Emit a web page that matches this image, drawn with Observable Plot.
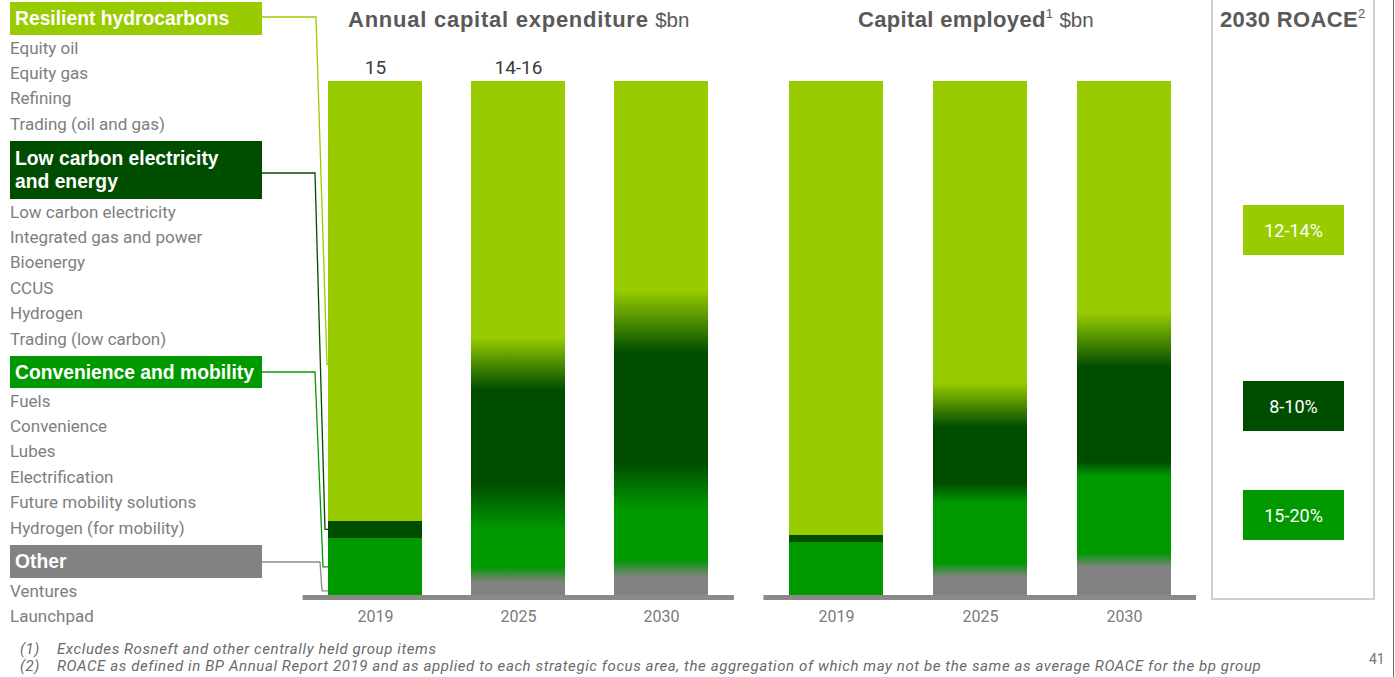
<!DOCTYPE html>
<html><head><meta charset="utf-8">
<script src="https://cdn.jsdelivr.net/npm/d3@7"></script>
<script src="https://cdn.jsdelivr.net/npm/@observablehq/plot@0.6"></script>
<style>
body{margin:0;background:#fff;}
#page{position:relative;width:1395px;height:677px;overflow:hidden;font-family:Roboto,"Liberation Sans",sans-serif;background:#fff;}
.hdr{position:absolute;left:10px;width:252px;color:#fff;font-weight:bold;font-size:19.3px;line-height:23px;padding:0 5px;box-sizing:border-box;display:flex;align-items:center;font-family:"Liberation Sans",Arial,sans-serif;white-space:nowrap;}
.item{position:absolute;left:10px;font-size:17px;color:#7e7e7e;line-height:20px;white-space:nowrap;}
.title{position:absolute;top:6px;line-height:28px;color:#595959;white-space:nowrap;font-family:"Liberation Sans",Arial,sans-serif;}
.title b{font-size:22px;letter-spacing:0.35px;}
.title span{font-size:20.5px;font-weight:normal;margin-left:2px;}
.title sup{font-size:13px;font-weight:normal;vertical-align:9px;line-height:0;}
.chart{position:absolute;top:40px;}
.roace{position:absolute;left:1211px;top:-2px;width:164px;height:602px;border:2px solid #cfcfcf;box-sizing:border-box;}
.rbox{position:absolute;left:1243px;width:101px;height:50px;color:#fff;font-size:18px;display:flex;align-items:center;justify-content:center;}
.foot{position:absolute;left:20px;font-size:15px;letter-spacing:0.6px;font-style:italic;color:#6a6a6a;white-space:nowrap;line-height:17px;}
.foot span{position:absolute;left:37px;}
</style></head>
<body><div id="page"></div>
<script>
// ---------- data ----------
const years = ["2019", "2025", "2030"];
const segmentNames = ["Other", "Convenience and mobility", "Low carbon electricity and energy", "Resilient hydrocarbons"];
const segmentColors = ["#828282", "#009a00", "#004d00", "#99cc00"];

// Annual capital expenditure: top edge of each segment as [low, high] % of bar
const capexOtherTop     = [[0, 0],       [2.7, 5.6],   [3.7, 7.0]];
const capexMobilityTop  = [[11.3, 11.3], [12.8, 21.9], [16.7, 25.8]];
const capexLowCarbonTop = [[14.6, 14.6], [40.0, 50.3], [47.2, 59.4]];
const capexTotals = ["15", "14-16", ""];

// Capital employed: top edge of each segment as [low, high] % of bar
const ceOtherTop     = [[0, 0],       [3.7, 6.4],   [5.6, 8.3]];
const ceMobilityTop  = [[10.5, 10.5], [18.1, 21.9], [23.3, 26.0]];
const ceLowCarbonTop = [[11.8, 11.8], [32.8, 41.4], [44.5, 55.0]];

// ROACE 2030
const roaceLabels = ["12-14%", "8-10%", "15-20%"];
const roaceSegment = [3, 2, 1];

// legend texts
const hydrocarbonItems = ["Equity oil", "Equity gas", "Refining", "Trading (oil and gas)"];
const lowCarbonItems = ["Low carbon electricity", "Integrated gas and power", "Bioenergy", "CCUS", "Hydrogen", "Trading (low carbon)"];
const mobilityItems = ["Fuels", "Convenience", "Lubes", "Electrification", "Future mobility solutions", "Hydrogen (for mobility)"];
const otherItems = ["Ventures", "Launchpad"];
const footnotes = [["(1)", "Excludes Rosneft and other centrally held group items"],
  ["(2)", "ROACE as defined in BP Annual Report 2019 and as applied to each strategic focus area, the aggregation of which may not be the same as average ROACE for the bp group"]];

// ---------- page ----------
const page = document.getElementById("page");
function add(html){ page.insertAdjacentHTML("beforeend", html); }

// gradient defs
add(`<svg width="0" height="0" style="position:absolute"><defs>${[0,1,2].map(k=>`
<linearGradient id="g${k}" x1="0" y1="0" x2="0" y2="1"><stop offset="0" stop-color="${segmentColors[k+1]}"/><stop offset="1" stop-color="${segmentColors[k]}"/></linearGradient>`).join("")}</defs></svg>`);

// legend
const legendGroups = [
  {name: "Resilient hydrocarbons", items: hydrocarbonItems, seg: 3},
  {name: "Low carbon electricity<br>and energy", items: lowCarbonItems, seg: 2},
  {name: "Convenience and mobility", items: mobilityItems, seg: 1},
  {name: "Other", items: otherItems, seg: 0}
];
const hdrTop = [2, 141, 356, 545], hdrH = [33, 58, 32, 33];
legendGroups.forEach((g, gi) => {
  add(`<div class="hdr" style="top:${hdrTop[gi]}px;height:${hdrH[gi]}px;background:${segmentColors[g.seg]}"><div>${g.name}</div></div>`);
  const bottom = hdrTop[gi] + hdrH[gi];
  g.items.forEach((t, i) => add(`<div class="item" style="top:${bottom + 12.5 + i*25.4 - 10}px">${t}</div>`));
});

// titles
add(`<div class="title" style="left:348px"><b style="letter-spacing:0.75px">Annual capital expenditure</b> <span>$bn</span></div>`);
add(`<div class="title" style="left:858px"><b>Capital employed</b><sup>1</sup> <span>$bn</span></div>`);
add(`<div class="title" style="left:1220px"><b>2030 ROACE</b><sup>2</sup></div>`);

function buildRows(otherTop, mobTop, lowTop){
  const rows = [];
  years.forEach((yr, i) => {
    const b = [[0,0], otherTop[i], mobTop[i], lowTop[i], [100,100]];
    for (let k = 0; k < 4; k++) {
      const lo = b[k][1], hi = b[k+1][0];
      if (hi > lo) rows.push({year: yr, y1: lo, y2: hi, fill: segmentColors[k]});
      if (k < 3) { const g = b[k+1]; if (g[1] > g[0]) rows.push({year: yr, y1: g[0], y2: g[1], fill: `url(#g${k})`}); }
    }
  });
  return rows;
}

function makeChart(rows, labels, mL, mR){
  const fills = [...new Set(rows.map(r => r.fill))];
  const marks = fills.map(f => Plot.barY(rows.filter(r => r.fill === f), {x: "year", y1: "y1", y2: "y2", fill: f, shapeRendering: "crispEdges"}));
  marks.push(Plot.ruleY([0], {stroke: "#8a8a8a", strokeWidth: 5, dy: 1}));
  if (labels) marks.push(Plot.text(years, {x: d => d, y: 100, text: (d, i) => labels[i], dy: -14, fontSize: 19, fill: "#3a3a3a"}));
  return Plot.plot({
    width: 440, height: 600, marginLeft: mL, marginRight: mR, marginTop: 41, marginBottom: 44,
    x: {domain: years, paddingInner: 0.346, paddingOuter: 0.173, label: null, tickSize: 0, tickPadding: 14},
    y: {domain: [0, 100], axis: null},
    style: {fontFamily: "Roboto, sans-serif", fontSize: "16px", color: "#7a7a7a", background: "transparent", overflow: "visible"},
    marks
  });
}

const capexChart = makeChart(buildRows(capexOtherTop, capexMobilityTop, capexLowCarbonTop), capexTotals, 2.6, 6.1);
capexChart.classList.add("chart"); capexChart.style.left = "300px";
page.appendChild(capexChart);
const ceChart = makeChart(buildRows(ceOtherTop, ceMobilityTop, ceLowCarbonTop), null, 3.4, 3.9);
ceChart.classList.add("chart"); ceChart.style.left = "760px";
page.appendChild(ceChart);

// connectors from legend headers to 2019 capex bar
const xs = capexChart.scale("x"), ys = capexChart.scale("y");
const barLeft = 300 + xs.apply("2019");
const yAt = v => 40 + ys.apply(v);
const endVals = [1, (0 + capexMobilityTop[0][0]) / 2, (capexMobilityTop[0][1] + capexLowCarbonTop[0][0]) / 2, 45];
const hdrLineY = [17, 173, 372, 562];
const bendX = [[316, 327], [315, 325], [315, 323], [320, 322]];
let lines = "";
[3, 2, 1, 0].forEach((seg, gi) => {
  const y0 = hdrLineY[gi], y1 = yAt(endVals[seg]);
  const [bx0, bx1] = bendX[gi];
  const col = seg === 0 ? "#8a8a8a" : segmentColors[seg];
  lines += `<polyline points="262,${y0} ${bx0},${y0} ${bx1},${y1} ${barLeft},${y1}" fill="none" stroke="${col}" stroke-width="1.3"/>`;
});
add(`<svg width="1395" height="677" style="position:absolute;left:0;top:0;pointer-events:none">${lines}</svg>`);

// ROACE panel
add(`<div class="roace"></div>`);
const rTop = [205, 381, 490];
roaceLabels.forEach((t, i) => add(`<div class="rbox" style="top:${rTop[i]}px;background:${segmentColors[roaceSegment[i]]}">${t}</div>`));

// footnotes
footnotes.forEach((f, i) => add(`<div class="foot" style="top:${641 + i*17}px">${f[0]}<span>${f[1]}</span></div>`));
add(`<div style="position:absolute;left:1369px;top:651px;font-size:14px;color:#777">41</div>`);
add(`<div style="position:absolute;left:1393px;top:0;width:1px;height:677px;background:#666"></div>`);
</script></body></html>
